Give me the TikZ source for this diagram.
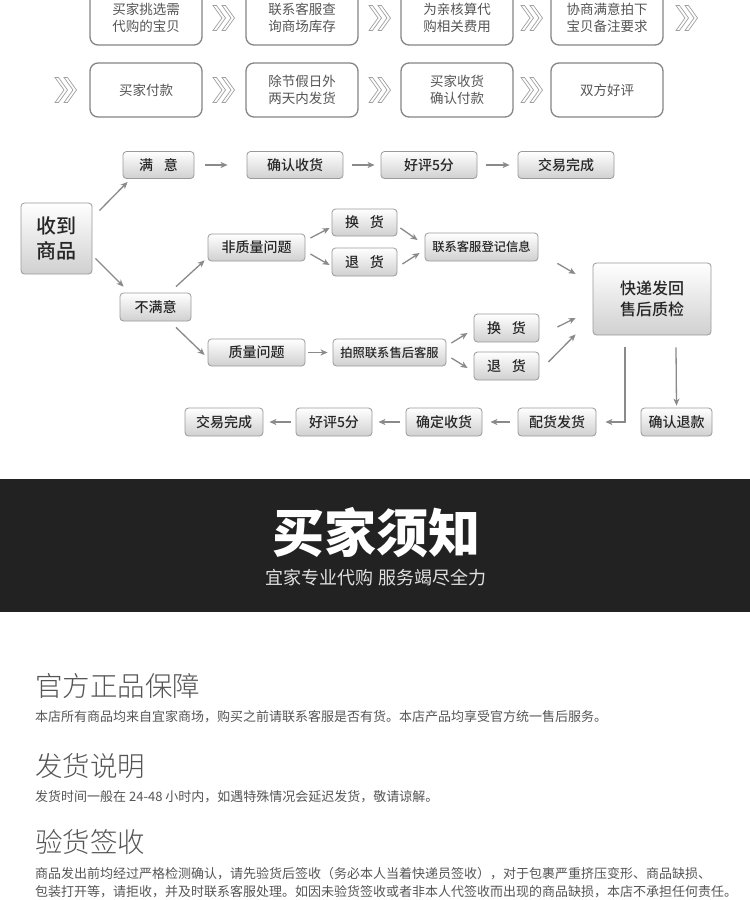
\documentclass[tikz,border=0pt]{standalone}
\usepackage{fontspec}
\setmainfont{Noto Sans CJK SC}
\newfontfamily\lightfont{Noto Sans CJK SC Light}
\newfontfamily\medfont{Noto Sans CJK SC Medium}
\usetikzlibrary{arrows.meta,calc}
\definecolor{tbord}{HTML}{858585}
\definecolor{ttext}{HTML}{555555}
\definecolor{fbord}{HTML}{9A9A9A}
\definecolor{ftext}{HTML}{262626}
\definecolor{fbot}{HTML}{D0D0D0}
\definecolor{arrc}{HTML}{8A8A8A}
\definecolor{chevc}{HTML}{A0A0A0}
\definecolor{band}{HTML}{222222}
\definecolor{btext}{HTML}{555555}
\tikzset{
  topbox/.style={draw=tbord, line width=1.3pt, rounded corners=8pt, fill=white,
    minimum width=112pt, minimum height=54pt, inner sep=0pt, align=center,
    text=ttext, font=\fontsize{13.5}{17}\selectfont},
  fbox/.style={draw=fbord, line width=0.8pt, rounded corners=3.5pt,
    top color=white, bottom color=fbot, inner sep=0pt, align=center,
    text=ftext, minimum height=27pt, font=\medfont\fontsize{14}{17}\selectfont},
  arr/.style={draw=arrc, line width=1.3pt, -{Stealth[length=7pt,width=6pt,inset=2pt]}},
  chev/.pic={
    \draw[chevc, line width=0.7pt, line join=miter] (0,-12.5) -- (9,0) -- (0,12.5) -- (3.5,12.5) -- (12.5,0) -- (3.5,-12.5) -- cycle;
    \draw[chevc, line width=0.7pt, line join=miter] (9,-12.5) -- (18,0) -- (9,12.5) -- (12.5,12.5) -- (21.5,0) -- (12.5,-12.5) -- cycle;
  }
}
\begin{document}
\begin{tikzpicture}[x=1pt,y=-1pt]
\useasboundingbox (0,0) rectangle (750,900);
\fill[white] (0,0) rectangle (750,900);

% ---------- top process rows ----------
\node[topbox] (t1) at (146,18) {买家挑选需\\代购的宝贝};
\node[topbox] (t2) at (302,18) {联系客服查\\询商场库存};
\node[topbox] (t3) at (457,18) {为亲核算代\\购相关费用};
\node[topbox] (t4) at (607,18) {协商满意拍下\\宝贝备注要求};
\node[topbox] (b1) at (146,90) {买家付款};
\node[topbox] (b2) at (302,90) {除节假日外\\两天内发货};
\node[topbox] (b3) at (457,90) {买家收货\\确认付款};
\node[topbox] (b4) at (607,90) {双方好评};
\pic at (213,18) {chev};
\pic at (369,18) {chev};
\pic at (521,18) {chev};
\pic at (676,18) {chev};
\pic at (55,90) {chev};
\pic at (213,90) {chev};
\pic at (369,90) {chev};
\pic at (521,90) {chev};

% ---------- flow chart ----------
\node[fbox, minimum width=71pt, minimum height=71pt, font=\medfont\fontsize{20}{25}\selectfont] (shou) at (56.5,238.5) {收到\\商品};
\node[fbox, minimum width=71pt] (manyi) at (158.5,165) {满\hspace{11pt}意};
\node[fbox, minimum width=96pt] (qrsh) at (295,165) {确认收货};
\node[fbox, minimum width=96pt] (hp1) at (429,165) {好评5分};
\node[fbox, minimum width=96pt] (jy1) at (566,165) {交易完成};
\node[fbox, minimum width=97pt] (fzl) at (256.5,247.5) {非质量问题};
\node[fbox, minimum width=65pt] (hh1) at (364.5,222.5) {换\hspace{11pt}货};
\node[fbox, minimum width=65pt, minimum height=28pt] (th1) at (364.5,262) {退\hspace{11pt}货};
\node[fbox, minimum width=113pt, minimum height=28pt, font=\medfont\fontsize{12.3}{15}\selectfont] (lxdj) at (481.5,247) {联系客服登记信息};
\node[fbox, minimum width=71pt, minimum height=28pt] (bmy) at (155.5,307) {不满意};
\node[fbox, minimum width=118pt, minimum height=72pt, font=\medfont\fontsize{16}{21}\selectfont] (kd) at (652,299) {快递发回\\售后质检};
\node[fbox, minimum width=97pt] (zl) at (256.5,352.5) {质量问题};
\node[fbox, minimum width=113pt, font=\medfont\fontsize{12.3}{15}\selectfont] (pz) at (389.5,352.5) {拍照联系售后客服};
\node[fbox, minimum width=65pt, minimum height=28pt] (hh2) at (506.5,328) {换\hspace{11pt}货};
\node[fbox, minimum width=65pt, minimum height=28pt] (th2) at (506.5,366) {退\hspace{11pt}货};
\node[fbox, minimum width=78pt, minimum height=28pt] (jy2) at (224,422) {交易完成};
\node[fbox, minimum width=76pt, minimum height=28pt] (hp2) at (334,422) {好评5分};
\node[fbox, minimum width=76pt, minimum height=28pt] (qdsh) at (444,422) {确定收货};
\node[fbox, minimum width=78pt, minimum height=28pt] (phfh) at (557,422) {配货发货};
\node[fbox, minimum width=71pt, minimum height=28pt] (qrtk) at (676.5,422) {确认退款};

% arrows
\draw[arr] ([shift={(7,8)}]shou.north east) -- ([shift={(5,3)}]manyi.south west);
\draw[arr] ([shift={(3,-16)}]shou.south east) -- ([shift={(4,-6)}]bmy.north west);
\draw[arr] ([shift={(20.5,-6)}]bmy.north) -- ([shift={(-3,-1)}]fzl.south west);
\draw[arr] ([shift={(20.5,6)}]bmy.south) -- ([shift={(-3,2.5)}]zl.west);
\draw[arr] ([shift={(5,-9.5)}]fzl.east) -- ([shift={(-2,5.5)}]hh1.west);
\draw[arr] ([shift={(5,6.5)}]fzl.east) -- ([shift={(-2,3)}]th1.west);
\draw[arr] ([shift={(3,5.5)}]hh1.east) -- ([shift={(-7,-7)}]lxdj.west);
\draw[arr] ([shift={(5,2)}]th1.east) -- ([shift={(-5,6)}]lxdj.west);
\draw[arr] ([shift={(19,2)}]lxdj.south east) -- ([shift={(-17,-25)}]kd.west);
\draw[arr] ([shift={(5,-9.5)}]pz.east) -- ([shift={(-6,5)}]hh2.west);
\draw[arr] ([shift={(5,5.5)}]pz.east) -- ([shift={(-6,2)}]th2.west);
\draw[arr] ([shift={(18,-1)}]hh2.east) -- ([shift={(-17,19)}]kd.west);
\draw[arr] ([shift={(9,-4)}]th2.east) -- ([shift={(-17,-1)}]kd.south west);
\draw[arr] ([xshift=3pt]zl.east) -- ([xshift=-5pt]pz.west);
\draw[arr] ([xshift=11pt]manyi.east) -- ([xshift=-19pt]qrsh.west);
\draw[arr] ([xshift=9pt]qrsh.east) -- ([xshift=-6pt]hp1.west);
\draw[arr] ([xshift=9pt]hp1.east) -- ([xshift=-8pt]jy1.west);
\draw[arr] ([shift={(-27,12)}]kd.south) |- ([xshift=9pt]phfh.east);
\draw[arr] ([shift={(24,12)}]kd.south) -- ([shift={(0,-2)}]qrtk.north);
\draw[arr] ([xshift=-8pt]phfh.west) -- ([xshift=8pt]qdsh.east);
\draw[arr] ([xshift=-6pt]qdsh.west) -- ([xshift=6pt]hp2.east);
\draw[arr] ([xshift=-5pt]hp2.west) -- ([xshift=6pt]jy2.east);

% ---------- banner ----------
\fill[band] (0,479) rectangle (750,612);
\node[text=white, font=\fontsize{52}{56}\selectfont\bfseries, inner sep=0pt] (title) at (376,533) {买家须知};
\node[text=white!88!black, font=\fontsize{18}{20}\selectfont, inner sep=0pt] (subtitle) at (376,578) {宜家专业代购 服务竭尽全力};

% ---------- notes ----------
\tikzset{head/.style={anchor=west, inner sep=0pt, text=btext, font=\lightfont\fontsize{27.5}{30}\selectfont},
         body/.style={anchor=west, inner sep=0pt, text=btext, font=\fontsize{13}{15}\selectfont}}
\node[head] (h1) at (35,686) {官方正品保障};
\node[body] (p1) at (35,717) {本店所有商品均来自宜家商场，购买之前请联系客服是否有货。本店产品均享受官方统一售后服务。};
\node[head] (h2) at (35,766) {发货说明};
\node[body] (p2) at (35,797) {发货时间一般在 24-48 小时内，如遇特殊情况会延迟发货，敬请谅解。};
\node[head] (h3) at (35,842) {验货签收};
\node[body] (p3) at (35,874) {商品发出前均经过严格检测确认，请先验货后签收（务必本人当着快递员签收），对于包裹严重挤压变形、商品缺损、};
\node[body] (p4) at (35,892) {包装打开等，请拒收，并及时联系客服处理。如因未验货签收或者非本人代签收而出现的商品缺损，本店不承担任何责任。};
\end{tikzpicture}
\end{document}
